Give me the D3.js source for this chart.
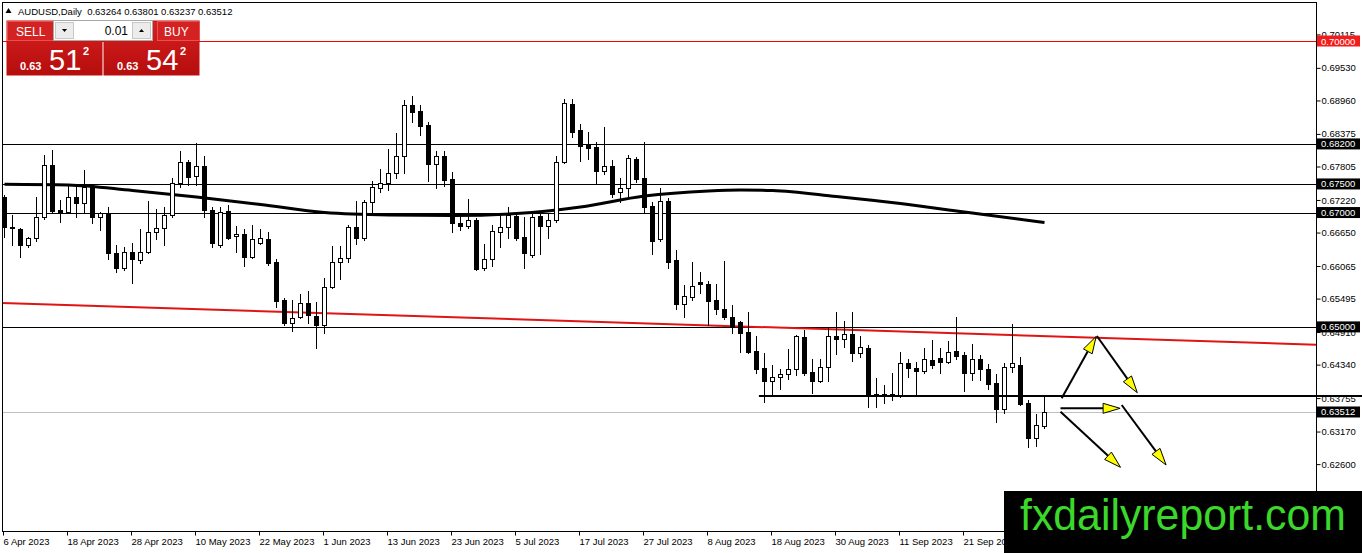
<!DOCTYPE html>
<html>
<head>
<meta charset="utf-8">
<script src="https://cdn.jsdelivr.net/npm/d3@7"></script>
<style>
html, body { margin: 0; padding: 0; background: #fff; overflow: hidden; }
svg { display: block; font-family: "Liberation Sans", Arial, sans-serif; }
</style>
</head>
<body>
<div id="chart"></div>
<script>
// AUDUSD daily candles, [open, high, low, close], one per trading day from 6 Apr 2023
const ohlc = [
  [.6727,.6731,.6657,.6675],[.6675,.6696,.6643,.6673],[.6671,.6673,.6622,.6643],[.6643,.6657,.6640,.6655],
  [.6655,.6727,.6650,.6692],[.6692,.6801,.6689,.6783],[.6783,.6809,.6699,.6703],[.6704,.6722,.6683,.6701],
  [.6701,.6748,.6699,.6727],[.6727,.6745,.6692,.6717],[.6717,.6774,.6701,.6745],[.6745,.6748,.6682,.6692],
  [.6692,.6701,.6669,.6699],[.6699,.6710,.6619,.6629],[.6629,.6643,.6596,.6603],[.6603,.6640,.6599,.6631],
  [.6631,.6647,.6577,.6619],[.6617,.6671,.6612,.6631],[.6631,.6720,.6629,.6666],[.6666,.6706,.6654,.6673],
  [.6673,.6710,.6643,.6696],[.6696,.6760,.6692,.6752],[.6752,.6808,.6745,.6788],[.6788,.6792,.6748,.6762],
  [.6764,.6822,.6748,.6781],[.6781,.6799,.6692,.6704],[.6704,.6710,.6640,.6647],[.6643,.6710,.6640,.6701],
  [.6703,.6713,.6654,.6655],[.6659,.6676,.6631,.6662],[.6662,.6671,.6606,.6622],[.6622,.6678,.6620,.6654],
  [.6647,.6671,.6645,.6655],[.6654,.6666,.6608,.6612],[.6613,.6619,.6535,.6545],[.6547,.6550,.6503,.6507],
  [.6507,.6547,.6493,.6516],[.6517,.6558,.6516,.6542],[.6542,.6563,.6507,.6521],[.6519,.6544,.6463,.6503],
  [.6503,.6585,.6489,.6570],[.6570,.6641,.6568,.6613],[.6613,.6641,.6584,.6620],[.6620,.6678,.6613,.6675],
  [.6675,.6720,.6645,.6655],[.6655,.6722,.6652,.6718],[.6718,.6755,.6696,.6745],[.6743,.6776,.6736,.6752],
  [.6752,.6811,.6739,.6769],[.6769,.6839,.6760,.6799],[.6799,.6897,.6769,.6888],[.6888,.6904,.6858,.6876],
  [.6878,.6888,.6836,.6851],[.6853,.6858,.6755,.6785],[.6785,.6808,.6743,.6799],[.6799,.6808,.6746,.6757],
  [.6759,.6771,.6666,.6682],[.6682,.6697,.6669,.6676],[.6676,.6724,.6673,.6687],[.6687,.6690,.6599,.6601],
  [.6603,.6645,.6599,.6619],[.6619,.6678,.6606,.6668],[.6666,.6697,.6640,.6675],[.6675,.6710,.6655,.6696],
  [.6694,.6701,.6652,.6655],[.6657,.6692,.6603,.6629],[.6626,.6701,.6622,.6692],[.6694,.6701,.6627,.6676],
  [.6676,.6697,.6655,.6687],[.6687,.6799,.6683,.6788],[.6788,.6899,.6787,.6892],[.6890,.6899,.6832,.6841],
  [.6844,.6855,.6790,.6816],[.6820,.6841,.6794,.6813],[.6815,.6823,.6752,.6773],[.6773,.6850,.6767,.6781],
  [.6781,.6792,.6727,.6732],[.6736,.6760,.6718,.6743],[.6743,.6801,.6725,.6795],[.6794,.6797,.6753,.6759],
  [.6760,.6823,.6701,.6710],[.6711,.6718,.6627,.6650],[.6654,.6743,.6650,.6720],[.6720,.6725,.6603,.6613],
  [.6617,.6634,.6531,.6540],[.6540,.6573,.6517,.6554],[.6552,.6613,.6547,.6572],[.6579,.6596,.6559,.6575],
  [.6575,.6580,.6503,.6545],[.6547,.6575,.6523,.6531],[.6531,.6615,.6514,.6517],[.6517,.6538,.6489,.6500],
  [.6509,.6510,.6456,.6489],[.6491,.6526,.6454,.6456],[.6458,.6484,.6419,.6426],[.6428,.6454,.6369,.6405],
  [.6405,.6433,.6381,.6412],[.6412,.6426,.6391,.6418],[.6418,.6461,.6409,.6426],[.6426,.6486,.6416,.6484],
  [.6482,.6494,.6416,.6419],[.6421,.6444,.6384,.6405],[.6405,.6444,.6404,.6430],[.6430,.6498,.6405,.6484],
  [.6484,.6526,.6453,.6479],[.6479,.6510,.6465,.6488],[.6488,.6526,.6440,.6454],[.6454,.6484,.6447,.6465],
  [.6463,.6468,.6360,.6381],[.6383,.6411,.6360,.6379],[.6382,.6398,.6367,.6379],[.6379,.6419,.6372,.6382],
  [.6379,.6456,.6377,.6437],[.6437,.6444,.6412,.6428],[.6428,.6439,.6383,.6423],[.6423,.6463,.6419,.6444],
  [.6442,.6477,.6428,.6433],[.6446,.6463,.6419,.6439],[.6439,.6475,.6437,.6456],[.6458,.6517,.6444,.6449],
  [.6451,.6456,.6388,.6419],[.6419,.6470,.6407,.6444],[.6444,.6451,.6407,.6426],[.6426,.6435,.6391,.6400],
  [.6402,.6418,.6334,.6356],[.6356,.6437,.6349,.6430],[.6430,.6505,.6421,.6437],[.6433,.6447,.6363,.6365],
  [.6367,.6372,.6290,.6306],[.6306,.6348,.6292,.6328],[.63264,.63801,.63237,.63512]
];

// date labels, one every 8 bars
const xLabels = ["6 Apr 2023", "18 Apr 2023", "28 Apr 2023", "10 May 2023", "22 May 2023", "1 Jun 2023",
  "13 Jun 2023", "23 Jun 2023", "5 Jul 2023", "17 Jul 2023", "27 Jul 2023", "8 Aug 2023",
  "18 Aug 2023", "30 Aug 2023", "11 Sep 2023", "21 Sep 2023"];
const labelStep = 8;

const yTicks = [0.70115, 0.69530, 0.68960, 0.68375, 0.67805, 0.67220, 0.66650, 0.66065,
  0.65495, 0.64910, 0.64340, 0.63755, 0.63170, 0.62600];

// moving average, [bar, price]
const maPoints = [[0,.67494],[8,.67482],[16,.67385],[24,.67272],[32,.67141],[40,.67001],[48,.66957],
  [56,.66948],[64,.66983],[72,.67097],[80,.67289],[88,.67377],[92,.67394],[96,.67385],[104,.67280],
  [112,.67158],[120,.67009],[130,.66826]];

// horizontal levels drawn across the chart, with a price box on the axis
const redLevel = 0.70000;
const blackLevels = [0.68200, 0.67500, 0.67000, 0.65000];
const bidPrice = 0.63512;
const supportLevel = { fromBar: 94.3, price: 0.6380 };

// descending red trend line, [bar, price]
const trendLine = [[-0.3, 0.65418], [164, 0.64689]];

// scenario arrows, [bar, price] -> [bar, price]
const arrows = [
  [[132.15, 0.63751], [136.45, 0.64832]],
  [[136.55, 0.64841], [141.6, 0.63849]],
  [[132.0, 0.63576], [139.45, 0.63576]],
  [[132.0, 0.63517], [139.5, 0.62544]],
  [[139.65, 0.63634], [145.2, 0.62585]]
];

const header = "AUDUSD,Daily  0.63264 0.63801 0.63237 0.63512";

const W = 1362, H = 553;
const plot = { left: 2, right: 1316, top: 2, bottom: 531 };

const svg = d3.select("#chart").append("svg")
  .attr("width", W).attr("height", H);

const x = d3.scaleLinear().domain([0, 130]).range([4.5, 1044.5]);
const y = d3.scaleLinear().domain([0.70, 0.60]).range([41, 612.8]);
const py = v => Math.round(y(v));

const defs = svg.append("defs");
defs.append("clipPath").attr("id", "plotClip")
  .append("rect")
  .attr("x", plot.left).attr("y", plot.top)
  .attr("width", plot.right - plot.left).attr("height", plot.bottom - plot.top);

const g = svg.append("g").attr("clip-path", "url(#plotClip)");

// bid line
g.append("line")
  .attr("x1", plot.left).attr("x2", plot.right)
  .attr("y1", py(bidPrice) + 0.5).attr("y2", py(bidPrice) + 0.5)
  .attr("stroke", "#c0c0c0").attr("stroke-width", 1);

// horizontal levels
g.selectAll(".level").data(blackLevels).enter().append("line")
  .attr("class", "level")
  .attr("x1", plot.left).attr("x2", plot.right)
  .attr("y1", d => py(d) + 0.5).attr("y2", d => py(d) + 0.5)
  .attr("stroke", "#000").attr("stroke-width", 1);
g.append("line")
  .attr("x1", plot.left).attr("x2", plot.right)
  .attr("y1", py(redLevel) + 0.5).attr("y2", py(redLevel) + 0.5)
  .attr("stroke", "#ff0000").attr("stroke-width", 1.2);

// trend line
g.append("path")
  .attr("d", d3.line().x(d => x(d[0])).y(d => y(d[1]))(trendLine))
  .attr("stroke", "#e01414").attr("stroke-width", 2).attr("fill", "none");

// moving average
g.append("path")
  .attr("d", d3.line().x(d => x(d[0])).y(d => y(d[1])).curve(d3.curveMonotoneX)(maPoints))
  .attr("stroke", "#000").attr("stroke-width", 3).attr("fill", "none");

// candles
const candle = g.selectAll(".candle").data(ohlc).enter().append("g").attr("class", "candle");

candle.append("line")
  .attr("x1", (d, i) => x(i)).attr("x2", (d, i) => x(i))
  .attr("y1", d => py(d[1])).attr("y2", d => py(d[2]) + 1)
  .attr("stroke", "#000").attr("stroke-width", 1);

candle.append("rect")
  .attr("x", (d, i) => x(i) - 2)
  .attr("y", d => py(Math.max(d[0], d[3])) + 0.5)
  .attr("width", 4)
  .attr("height", d => Math.max(py(Math.min(d[0], d[3])) - py(Math.max(d[0], d[3])), 0.01))
  .attr("fill", d => d[3] > d[0] ? "#fff" : "#000")
  .attr("stroke", "#000").attr("stroke-width", 1);

// support line, runs across the price axis as well
svg.append("line")
  .attr("x1", x(supportLevel.fromBar)).attr("x2", W)
  .attr("y1", py(supportLevel.price)).attr("y2", py(supportLevel.price))
  .attr("stroke", "#000").attr("stroke-width", 2);

// arrows
const arrowG = svg.append("g");
arrows.forEach(a => {
  const x1 = x(a[0][0]), y1 = y(a[0][1]), x2 = x(a[1][0]), y2 = y(a[1][1]);
  const ang = Math.atan2(y2 - y1, x2 - x1);
  const len = 17, half = 5;
  const bx = x2 - len * Math.cos(ang), by = y2 - len * Math.sin(ang);
  arrowG.append("line")
    .attr("x1", x1).attr("y1", y1).attr("x2", bx).attr("y2", by)
    .attr("stroke", "#000").attr("stroke-width", 2);
  const pts = [
    [x2, y2],
    [bx + half * Math.sin(ang), by - half * Math.cos(ang)],
    [bx - half * Math.sin(ang), by + half * Math.cos(ang)]
  ];
  arrowG.append("polygon")
    .attr("points", pts.map(p => p.join(",")).join(" "))
    .attr("fill", "#ffff00").attr("stroke", "#000").attr("stroke-width", 1);
});

// frame
svg.append("rect")
  .attr("x", plot.left + 0.5).attr("y", plot.top + 0.5)
  .attr("width", plot.right - plot.left).attr("height", plot.bottom - plot.top)
  .attr("fill", "none").attr("stroke", "#000").attr("stroke-width", 1);

// price axis
const yAxis = svg.append("g")
  .attr("transform", `translate(${plot.right + 0.5},0)`)
  .call(d3.axisRight(y).tickValues(yTicks).tickSize(4).tickSizeOuter(0).tickPadding(1)
    .tickFormat(d3.format(".5f")));
yAxis.select(".domain").remove();
yAxis.selectAll("text").attr("font-size", 9.5).attr("font-family", "Liberation Sans, Arial, sans-serif").attr("fill", "#000");
yAxis.selectAll("line").attr("stroke", "#000");

// date axis
const xAxis = svg.append("g")
  .attr("transform", `translate(0,${plot.bottom + 0.5})`)
  .call(d3.axisBottom(x).tickValues(xLabels.map((d, i) => i * labelStep))
    .tickSize(4).tickSizeOuter(0).tickPadding(3)
    .tickFormat((d, i) => xLabels[i]));
xAxis.select(".domain").remove();
xAxis.selectAll("line").attr("transform", "translate(-1.5,0)").attr("stroke", "#000");
xAxis.selectAll("text").attr("text-anchor", "start").attr("dx", -1.5)
  .attr("font-size", 9.5).attr("font-family", "Liberation Sans, Arial, sans-serif").attr("fill", "#000");

// price boxes on the axis
const boxes = [{ p: redLevel, fill: "#f21c1c" }]
  .concat(blackLevels.map(p => ({ p, fill: "#000" })))
  .concat([{ p: bidPrice, fill: "#000" }]);
const box = svg.selectAll(".pbox").data(boxes).enter().append("g").attr("class", "pbox");
box.append("rect")
  .attr("x", 1317).attr("y", d => y(d.p) - 5.5)
  .attr("width", 43).attr("height", 11)
  .attr("fill", d => d.fill);
box.append("text")
  .attr("x", 1321).attr("y", d => y(d.p) + 3.5)
  .attr("font-size", 9.5).attr("fill", "#fff")
  .text(d => d3.format(".5f")(d.p));

// header
svg.append("path").attr("d", "M5.5,13 L8.5,8 L11.5,13 Z").attr("fill", "#000");
svg.append("text").attr("x", 18).attr("y", 14.5).attr("font-size", 9.5).attr("fill", "#000")
  .attr("xml:space", "preserve").style("white-space", "pre").text(header);

// one-click trading panel
const grad = defs.append("linearGradient").attr("id", "redGrad")
  .attr("x1", 0).attr("y1", 0).attr("x2", 0).attr("y2", 1);
grad.append("stop").attr("offset", "0%").attr("stop-color", "#d82020");
grad.append("stop").attr("offset", "100%").attr("stop-color", "#b50d0d");

const panel = svg.append("g");
panel.append("rect").attr("x", 3).attr("y", 18).attr("width", 199).attr("height", 22).attr("fill", "#fff");
[[7, "SELL", 16, 7, 46, "0.63", "51", "2"], [104, "BUY", 164, 157, 42, "0.63", "54", "2"]].forEach(b => {
  const [bx, lab, lx, hx, hw, small, big, sup] = b;
  panel.append("rect").attr("x", bx).attr("y", 21).attr("width", 95).attr("height", 54)
    .attr("fill", "url(#redGrad)").attr("stroke", "#c01010").attr("stroke-width", 1);
  panel.append("rect").attr("x", hx + 0.5).attr("y", 21.5).attr("width", hw).attr("height", 19)
    .attr("fill", "#d42222").attr("stroke", "#e85050").attr("stroke-width", 1);
  panel.append("text").attr("x", lx).attr("y", 36).attr("font-size", 12).attr("fill", "#fff").text(lab);
  panel.append("text").attr("x", bx + 13).attr("y", 70).attr("font-size", 11).attr("font-weight", "bold")
    .attr("fill", "#fff").text(small);
  panel.append("text").attr("x", bx + 42).attr("y", 70).attr("font-size", 29).attr("fill", "#fff").text(big);
  panel.append("text").attr("x", bx + 76).attr("y", 55).attr("font-size", 11).attr("font-weight", "bold")
    .attr("fill", "#fff").text(sup);
});
panel.append("rect").attr("x", 53.5).attr("y", 20.5).attr("width", 99).attr("height", 20)
  .attr("fill", "#fff").attr("stroke", "#a8a8a8");
panel.append("rect").attr("x", 55.5).attr("y", 22.5).attr("width", 18).attr("height", 16)
  .attr("fill", "#ececec").attr("stroke", "#c8c8c8");
panel.append("rect").attr("x", 132.5).attr("y", 22.5).attr("width", 18).attr("height", 16)
  .attr("fill", "#ececec").attr("stroke", "#c8c8c8");
panel.append("path").attr("d", "M62,29 L67,29 L64.5,32 Z").attr("fill", "#000");
panel.append("path").attr("d", "M139,32 L144,32 L141.5,29 Z").attr("fill", "#000");
panel.append("text").attr("x", 128).attr("y", 35).attr("text-anchor", "end")
  .attr("font-size", 12).attr("fill", "#000").text("0.01");

// watermark
svg.append("rect").attr("x", 1004).attr("y", 491).attr("width", W - 1004).attr("height", H - 491)
  .attr("fill", "#000");
svg.append("text").attr("x", 1020).attr("y", 530)
  .attr("font-size", 44).attr("fill", "#3bd82b")
  .attr("textLength", 326).attr("lengthAdjust", "spacingAndGlyphs")
  .text("fxdailyreport.com");
</script>
</body>
</html>
